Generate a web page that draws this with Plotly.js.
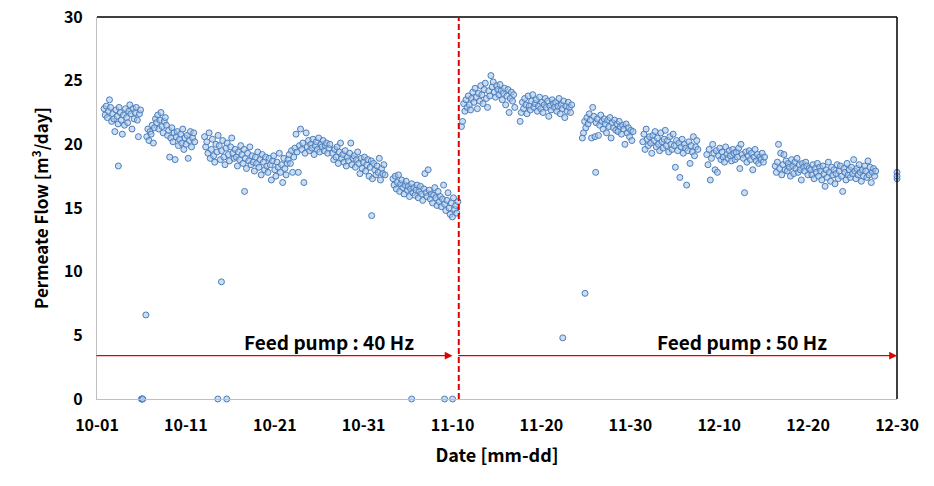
<!DOCTYPE html>
<html>
<head>
<meta charset="utf-8">
<script src="https://cdn.plot.ly/plotly-3.0.1.min.js"></script>
<style>html,body{margin:0;padding:0;background:#fff;}#chart{width:934px;height:486px;}</style>
</head>
<body>
<div id="chart"></div>
<script>
// x positions are days after 10-01
const tickDays = [0, 10, 20, 30, 40, 50, 60, 70, 80, 90];
const tickLabels = ['10-01', '10-11', '10-21', '10-31', '11-10', '11-20', '11-30', '12-10', '12-20', '12-30'];

// continuous measurement segments (start day, end day), readings evenly spaced within each
const segStart = [0.8, 5.6, 12.1, 21.5, 26.5, 33.3, 41.0, 47.6, 54.6, 61.4, 68.6, 76.3, 80.3];
const segEnd   = [4.9, 11.0, 21.4, 26.2, 32.4, 40.6, 47.0, 53.4, 60.3, 67.6, 75.1, 80.1, 87.6];

const seg1 = [22.8,22.3,23.0,22.1,22.6,23.5,22.9,21.8,22.4,22.0,21.0,22.7,22.2,21.6,22.9,22.5,21.9,20.8,22.3,21.5,22.8,22.1,21.7,22.6,23.1,22.4,21.2,22.8,22.0,22.5,22.9,21.9,20.6,22.4,22.7];
const seg2 = [20.6,21.2,20.3,21.0,20.8,21.5,20.1,21.3,22.0,21.7,22.3,21.2,21.9,22.5,21.4,20.9,21.8,22.1,21.5,20.7,21.1,19.0,20.5,21.3,20.2,20.9,18.8,20.6,21.0,19.9,20.4,20.8,20.1,21.2,19.6,20.5,20.0,20.7,18.9,20.3,21.0,19.8,20.5,20.9,20.2];
const seg3 = [20.6,19.8,20.2,19.3,20.9,18.9,19.6,20.4,19.1,18.6,20.0,19.4,20.7,19.9,18.8,19.5,20.3,19.0,18.4,19.7,20.1,19.2,18.7,19.8,20.5,19.3,18.9,19.6,19.0,18.3,19.4,18.8,19.9,19.2,18.5,19.6,18.9,18.1,19.3,18.7,19.8,18.4,19.1,18.6,17.9,19.0,18.5,19.4,18.2,18.8,17.6,19.2,18.6,18.0,19.0,18.3,17.8,18.9,18.4,17.2,18.7,19.1,18.0,17.5,18.6,18.2,19.3,17.8,18.4,17.0,18.9,18.1,17.6,18.5];
const seg4 = [18.8,19.2,18.5,19.5,17.8,19.0,19.7,20.8,19.4,17.8,19.9,21.2,19.6,20.1,17.0,19.3,20.9,19.8,20.3,19.5,20.0,19.7,20.4,19.2,19.9,20.2,19.6,20.5,19.4,20.0,19.8,20.3,19.5,19.9,20.1,19.3,19.7,20.0];
const seg5 = [19.3,18.8,19.6,19.0,19.8,18.5,19.4,20.1,18.9,19.2,18.6,19.5,18.3,19.0,18.7,19.3,20.1,18.4,18.9,19.1,18.2,18.8,19.4,18.5,17.7,18.9,18.1,18.6,19.0,17.9,18.4,18.8,17.5,18.2,18.7,17.3,18.5,18.0,17.6,18.3,17.8,18.9,17.2,18.1,17.7,18.4,17.6];
const seg6 = [17.3,16.8,17.5,16.5,17.0,17.6,16.3,16.9,17.2,16.6,16.1,16.8,17.1,16.4,16.7,15.9,16.5,16.9,16.2,16.6,16.0,16.4,16.8,15.8,16.3,16.7,16.1,15.6,16.5,17.7,16.2,15.9,18.0,16.4,15.7,16.1,15.4,16.0,16.6,15.8,15.2,16.3,15.5,15.9,15.1,15.7,16.8,15.3,14.8,15.6,16.2,15.0,14.5,15.4,14.3,15.8,14.9,15.2,14.6,15.5];
const seg7 = [21.4,21.8,23.2,22.6,23.5,22.9,23.8,23.1,22.7,23.6,24.1,23.3,24.4,23.7,22.8,24.0,23.4,24.6,23.9,23.2,24.3,24.8,23.6,22.9,24.2,23.8,25.4,24.5,24.9,24.1,23.7,24.6,24.3,23.9,24.7,24.2,23.5,24.0,24.4,23.1,23.8,24.3,22.5,23.6,24.1,23.4,23.9,22.9];
const seg8 = [21.8,22.5,23.3,22.8,23.6,23.1,22.4,23.8,23.0,22.7,23.4,23.9,22.9,23.2,23.5,22.6,23.0,23.7,22.8,23.3,22.5,23.1,23.6,22.9,23.4,22.2,23.0,22.7,23.5,23.2,22.9,23.3,22.6,23.0,23.6,22.4,23.1,22.8,23.4,22.1,23.0,22.6,23.3,22.9,22.5,23.1];
const seg9 = [20.5,20.9,21.8,21.3,22.1,21.6,22.4,21.9,20.5,22.9,22.2,20.6,21.7,22.0,20.7,21.5,22.3,21.8,21.2,22.0,21.6,20.9,21.9,21.4,22.1,20.5,21.7,21.3,21.9,21.1,21.6,21.0,21.8,21.4,20.8,21.5,21.2,20.0,21.6,20.9,21.3,20.6,21.1,20.3,21.0];
const seg10 = [20.2,20.8,19.6,21.2,20.4,19.9,20.6,20.1,19.3,20.7,20.3,21.0,19.8,20.5,20.0,19.5,20.9,20.2,19.7,20.4,21.1,19.9,20.3,19.4,20.6,20.0,19.6,20.8,19.9,18.2,20.3,19.5,20.1,17.4,19.8,20.4,19.3,20.0,19.7,16.8,19.5,20.2,18.5,19.9,19.4,20.6,19.1,19.8,20.3,19.6];
const seg11 = [19.2,18.4,19.6,17.2,18.9,20.0,19.3,18.0,19.5,17.8,19.1,19.7,18.8,19.4,19.0,18.6,19.8,19.2,18.9,19.5,19.1,18.7,19.6,19.3,18.8,19.4,19.0,19.7,18.1,20.0,19.2,18.9,16.2,19.4,18.6,19.1,19.5,18.8,19.3,18.0,19.0,19.6,18.7,19.2,18.5,19.0,18.8,19.3,18.6,19.0];
const seg12 = [18.3,17.8,18.6,20.0,18.1,19.3,17.6,18.4,19.2,18.0,18.7,17.9,18.5,18.2,17.5,18.8,18.3,17.7,18.6,18.1,18.9,17.8,18.4,18.0,17.2,18.5,18.2,17.9,18.6,18.3,17.6,18.1];
const seg13 = [18.0,17.6,18.4,17.3,18.1,17.8,18.5,17.5,18.2,17.9,17.2,18.3,17.7,16.7,18.0,17.4,18.6,17.8,17.1,18.2,17.6,18.0,16.9,17.7,18.4,17.3,17.9,18.3,17.5,16.3,18.1,17.8,17.2,18.5,17.6,18.0,17.4,18.2,17.7,18.8,17.9,17.3,18.1,17.6,18.4,17.8,17.1,18.0,17.5,18.3,17.9,17.4,18.7,17.6,18.2,17.0,17.8,18.1,17.5,17.9];

// isolated readings
const outDay  = [2.4, 5.0, 5.05, 5.1, 5.15, 5.5, 13.6, 14.0, 14.6, 16.6, 30.9, 35.4, 39.1, 40.0, 52.4, 54.9, 56.1, 90.0, 90.0, 90.0];
const outFlow = [18.3, 0, 0, 0, 0, 6.6, 0, 9.2, 0, 16.3, 14.4, 0, 0, 0, 4.8, 8.3, 17.8, 17.8, 17.3, 17.5];

const switchDay = 40.7;
const arrowLevel = 3.4;

const segs = [seg1,seg2,seg3,seg4,seg5,seg6,seg7,seg8,seg9,seg10,seg11,seg12,seg13];
const xs = [], ys = [];
segs.forEach((vals, k) => {
  const n = vals.length, s = segStart[k], e = segEnd[k];
  vals.forEach((v, i) => { xs.push(s + (e - s) * i / (n - 1)); ys.push(v); });
});
outDay.forEach((d, i) => { xs.push(d); ys.push(outFlow[i]); });

const FONT = '"Noto Sans CJK KR", "Noto Sans", sans-serif';
const red = '#e00000';

const trace = {
  x: xs, y: ys, type: 'scatter', mode: 'markers', cliponaxis: false,
  marker: { symbol: 'circle', size: 6, color: 'rgba(170,198,235,0.6)', line: { color: '#4a7ebb', width: 1 } },
  hoverinfo: 'skip'
};

const layout = {
  width: 934, height: 486,
  margin: { l: 97, r: 37, t: 17, b: 87 },
  paper_bgcolor: '#fff', plot_bgcolor: '#fff',
  showlegend: false,
  font: { family: FONT, color: '#000' },
  xaxis: {
    range: [0, 90], tickvals: tickDays, ticktext: tickLabels,
    showgrid: false, zeroline: false, ticks: '',
    showline: true, linecolor: '#bfbfbf', linewidth: 1,
    tickfont: { family: FONT, size: 16, weight: 'bold', color: '#000' },
    ticklabelstandoff: 12,
    title: { text: 'Date [mm-dd]', font: { family: FONT, size: 18, weight: 'bold', color: '#000' }, standoff: 14 }
  },
  yaxis: {
    range: [0, 30], tickvals: [0,5,10,15,20,25,30],
    showgrid: false, zeroline: false, ticks: '',
    showline: true, linecolor: '#bfbfbf', linewidth: 1,
    tickfont: { family: FONT, size: 16, weight: 'bold', color: '#000' },
    ticklabelstandoff: 10,
    title: { text: 'Permeate Flow [m<sup>3</sup>/day]', font: { family: FONT, size: 17, weight: 'bold', color: '#000' }, standoff: 10 }
  },
  shapes: [
    { type: 'line', xref: 'paper', yref: 'paper', x0: 0, x1: 1, y0: 1, y1: 1, line: { color: '#000', width: 1.5 } },
    { type: 'line', xref: 'paper', yref: 'paper', x0: 1, x1: 1, y0: 0, y1: 1, line: { color: '#000', width: 1.5 } },
    { type: 'line', xref: 'x', yref: 'paper', x0: switchDay, x1: switchDay, y0: 0, y1: 1, line: { color: red, width: 2, dash: '6px,3px' } }
  ],
  annotations: [
    { x: 40.0, y: arrowLevel, ax: -0.4, ay: arrowLevel, xref: 'x', yref: 'y', axref: 'x', ayref: 'y', text: ' ', showarrow: true, arrowhead: 2, arrowsize: 1.2, arrowwidth: 1.3, arrowcolor: red, standoff: 0, startstandoff: 0 },
    { x: 90, y: arrowLevel, ax: 40.3, ay: arrowLevel, xref: 'x', yref: 'y', axref: 'x', ayref: 'y', text: ' ', showarrow: true, arrowhead: 2, arrowsize: 1.2, arrowwidth: 1.3, arrowcolor: red, standoff: 0, startstandoff: 0 },
    { x: 26.1, y: 4.5, xref: 'x', yref: 'y', text: 'Feed pump : 40 Hz', showarrow: false, font: { family: FONT, size: 19, weight: 'bold', color: '#000' } },
    { x: 72.6, y: 4.5, xref: 'x', yref: 'y', text: 'Feed pump : 50 Hz', showarrow: false, font: { family: FONT, size: 19, weight: 'bold', color: '#000' } }
  ]
};

Plotly.newPlot('chart', [trace], layout, { displayModeBar: false, staticPlot: true });
</script>
</body>
</html>
